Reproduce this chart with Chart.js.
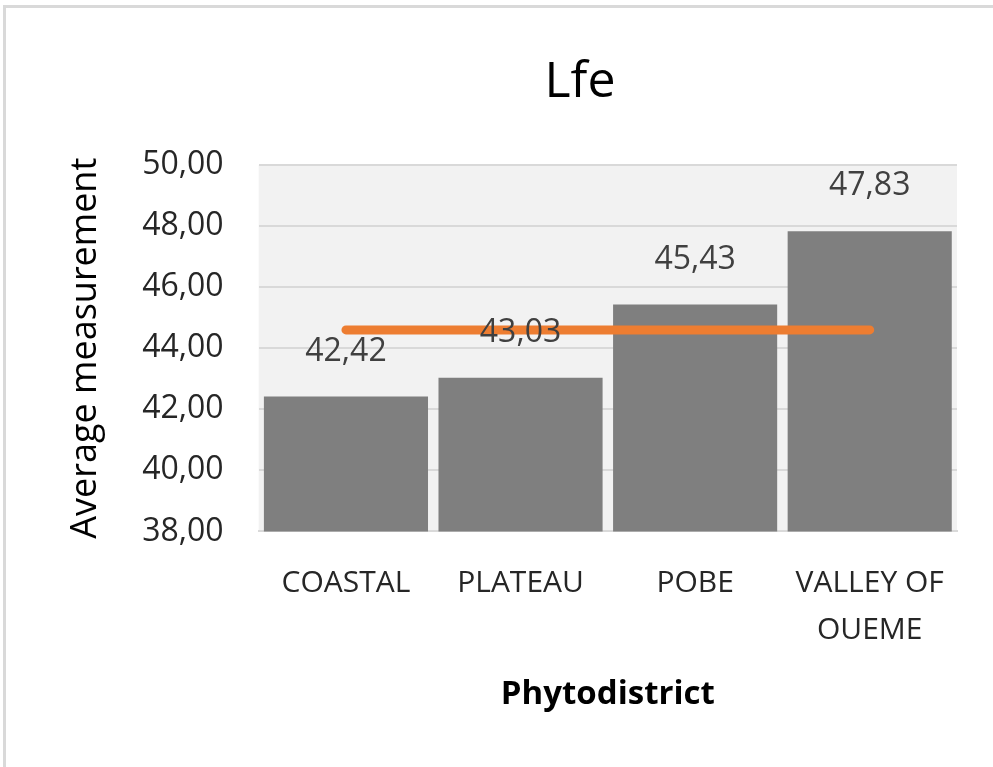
<!DOCTYPE html>
<html>
<head>
<meta charset="utf-8">
<script src="https://cdn.jsdelivr.net/npm/chart.js@4"></script>
<style>
  body { margin: 0; background: #fff; }
  #box { position: absolute; left: 3px; top: 5px; width: 1000px; height: 770px; border: 3px solid #d9d9d9; box-sizing: border-box; }
  #wrap { position: absolute; left: 0; top: 0; width: 993px; height: 767px; }
  #title { position: absolute; left: 480px; width: 200px; top: 44px; text-align: center; font: 50px "Open Sans", sans-serif; color: #000; line-height: 68px; }
</style>
</head>
<body>
<div id="box"></div>
<div id="wrap"><canvas id="chart"></canvas></div>
<div id="title">Lfe</div>
<script>
const categories = [['COASTAL'], ['PLATEAU'], ['POBE'], ['VALLEY OF', 'OUEME']];
const barValues = [42.42, 43.03, 45.43, 47.83];
const averageValues = [44.6, 44.6, 44.6, 44.6];

const fmt = v => v.toFixed(2).replace('.', ',');
const font = '"Open Sans", sans-serif';

// light gray plot background like the Excel chart
const plotBg = {
    id: 'plotBg',
    beforeDraw(chart) {
        const a = chart.chartArea;
        const c = chart.ctx;
        c.save();
        c.fillStyle = '#f2f2f2';
        c.fillRect(a.left, a.top, a.right - a.left, a.bottom - a.top);
        c.restore();
    }
};

// value labels above each bar
const barLabels = {
    id: 'barLabels',
    afterDatasetsDraw(chart) {
        const c = chart.ctx;
        const meta = chart.getDatasetMeta(1);
        c.save();
        c.font = '32px ' + font;
        c.fillStyle = '#404040';
        c.textAlign = 'center';
        c.textBaseline = 'middle';
        meta.data.forEach((bar, i) => {
            c.fillText(fmt(barValues[i]), bar.x, bar.y - 45);
        });
        c.restore();
    }
};

new Chart(document.getElementById('chart'), {
    data: {
        labels: categories,
        datasets: [
            {
                type: 'line',
                data: averageValues,
                borderColor: '#ed7d31',
                borderWidth: 9,
                borderCapStyle: 'round',
                pointRadius: 0,
                order: 0
            },
            {
                type: 'bar',
                data: barValues,
                backgroundColor: '#7f7f7f',
                barPercentage: 0.94,
                categoryPercentage: 1,
                order: 1
            }
        ]
    },
    options: {
        responsive: true,
        maintainAspectRatio: false,
        animation: false,
        layout: { padding: { left: 64, right: 36, top: 165, bottom: 53 } },
        plugins: {
            legend: { display: false },
            tooltip: { enabled: false }
        },
        scales: {
            x: {
                grid: { display: false },
                border: { color: '#d9d9d9', width: 2 },
                ticks: {
                    color: '#262626',
                    font: { family: font, size: 30, lineHeight: 1.55 },
                    padding: 21,
                    maxRotation: 0
                },
                title: {
                    display: true,
                    text: 'Phytodistrict',
                    color: '#000',
                    font: { family: font, size: 33, weight: 'bold' },
                    padding: { top: 0, bottom: 0 }
                }
            },
            y: {
                min: 38,
                max: 50,
                ticks: {
                    stepSize: 2,
                    color: '#262626',
                    font: { family: font, size: 32 },
                    padding: 35,
                    callback: v => fmt(v)
                },
                grid: { color: '#d9d9d9', lineWidth: 2, drawTicks: false },
                border: { display: false },
                title: {
                    display: true,
                    text: 'Average measurement',
                    color: '#000',
                    font: { family: font, size: 36 },
                    padding: { top: 0, bottom: 0 }
                }
            }
        }
    },
    plugins: [plotBg, barLabels]
});
</script>
</body>
</html>
